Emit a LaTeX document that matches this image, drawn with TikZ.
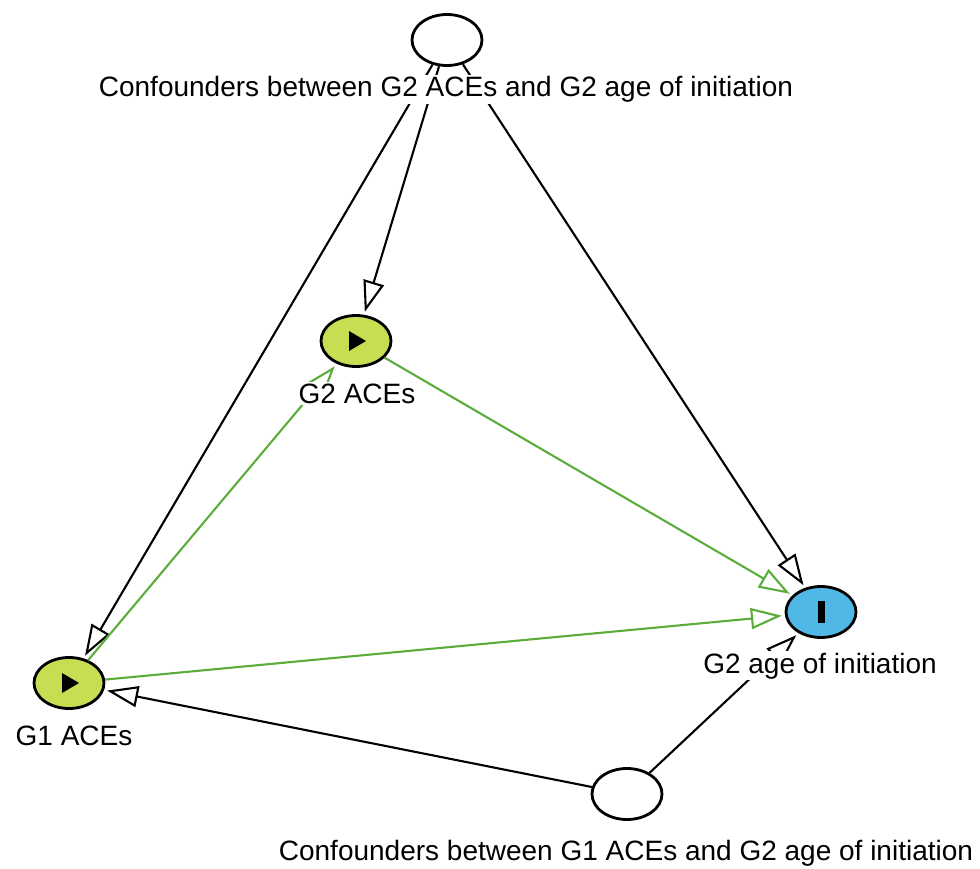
\documentclass[tikz,border=0pt]{standalone}
\usepackage{fontspec}
\setmainfont{Liberation Sans}
\usetikzlibrary{shapes.geometric,arrows.meta,calc}

\definecolor{exposure}{RGB}{199,221,82}
\definecolor{outcome}{RGB}{80,184,230}
\definecolor{causal}{RGB}{92,172,60}

\tikzset{
  var/.style={ellipse, draw=black, line width=2.8pt, inner sep=0pt,
              minimum width=70pt, minimum height=51pt, fill=white},
  expvar/.style={var, fill=exposure},
  outvar/.style={var, fill=outcome},
  varlabel/.style={anchor=base, fill=white, inner sep=1.5pt,
                   font=\fontsize{28}{34}\selectfont},
  edge/.style={line width=2.1pt, draw=black,
               -{Triangle[open, length=31pt, width=21pt, line width=2.1pt]},
               shorten >=3pt},
  greenedge/.style={edge, draw=causal},
}

\begin{document}
\begin{tikzpicture}[x=1pt, y=-1pt]
  \useasboundingbox (0,0) rectangle (980,869);

  % variables
  \node[var]    (conf2) at (447,40)  {};
  \node[expvar] (g2ace) at (356,341) {};
  \node[expvar] (g1ace) at (69,683)  {};
  \node[outvar] (g2age) at (821,612) {};
  \node[var]    (conf1) at (627,794) {};

  % exposure / outcome markers
  \fill[black] ($(g2ace)+(-7,-10)$) -- ($(g2ace)+(10,0)$) -- ($(g2ace)+(-7,10)$) -- cycle;
  \fill[black] ($(g1ace)+(-7,-10)$) -- ($(g1ace)+(10,0)$) -- ($(g1ace)+(-7,10)$) -- cycle;
  \fill[black] ($(g2age)+(-3.5,-11)$) rectangle ($(g2age)+(3.5,11)$);

  % confounder paths
  \draw[edge] (conf2) -- (g1ace);
  \draw[edge] (conf2) -- (g2ace);
  \draw[edge] (conf2) -- (g2age);
  \draw[edge] (conf1) -- (g1ace);
  \draw[edge] (conf1) -- (g2age);

  % causal paths
  \draw[greenedge] (g1ace) -- (g2ace);
  \draw[greenedge] (g2ace) -- (g2age);
  \draw[greenedge] (g1ace) -- (g2age);

  % labels
  \node[varlabel] (lconf2) at (446,97)  {Confounders between G2 ACEs and G2 age of initiation};
  \node[varlabel] (lg2ace) at (357,403) {G2 ACEs};
  \node[varlabel] (lg1ace) at (74,745)  {G1 ACEs};
  \node[varlabel] (lg2age) at (820,673) {G2 age of initiation};
  \node[varlabel] (lconf1) at (626,860) {Confounders between G1 ACEs and G2 age of initiation};
\end{tikzpicture}
\end{document}
